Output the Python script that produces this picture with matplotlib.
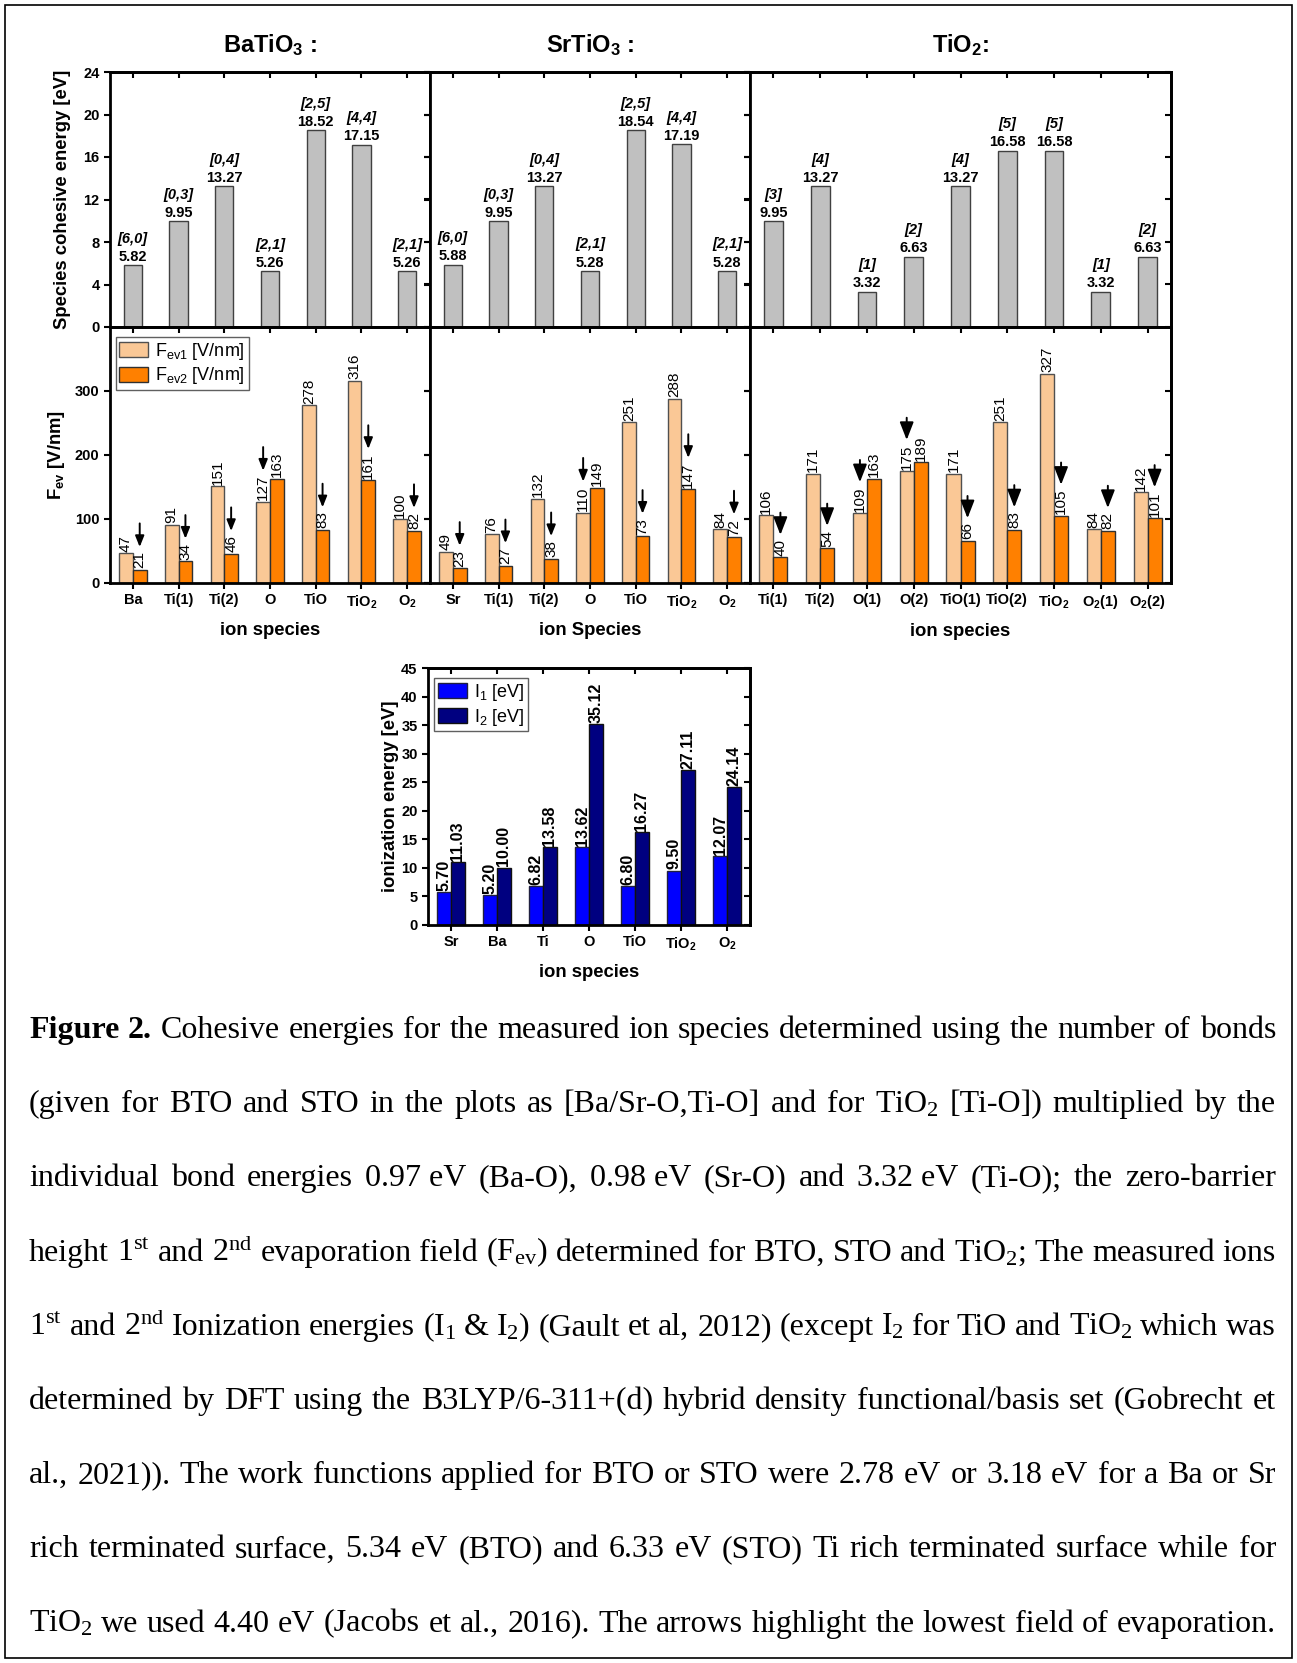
import matplotlib
matplotlib.use("Agg")
import matplotlib.pyplot as plt
from matplotlib.transforms import offset_copy
from matplotlib.patches import Rectangle
import numpy as np

plt.rcParams["font.family"] = ["Liberation Sans", "DejaVu Sans"]
plt.rcParams["font.weight"] = "bold"
plt.rcParams["axes.labelweight"] = "bold"
plt.rcParams["mathtext.default"] = "regular"

# --- данные -----------------------------------------------------------------
bto_species = ["Ba", "Ti(1)", "Ti(2)", "O", "TiO", "TiO$_2$", "O$_2$"]
bto_cohesive = [5.82, 9.95, 13.27, 5.26, 18.52, 17.15, 5.26]
bto_bonds = ["[6,0]", "[0,3]", "[0,4]", "[2,1]", "[2,5]", "[4,4]", "[2,1]"]
bto_fev1 = [47, 91, 151, 127, 278, 316, 100]
bto_fev2 = [21, 34, 46, 163, 83, 161, 82]
bto_lowest = [2, 2, 2, 1, 2, 2, 2]

sto_species = ["Sr", "Ti(1)", "Ti(2)", "O", "TiO", "TiO$_2$", "O$_2$"]
sto_cohesive = [5.88, 9.95, 13.27, 5.28, 18.54, 17.19, 5.28]
sto_bonds = ["[6,0]", "[0,3]", "[0,4]", "[2,1]", "[2,5]", "[4,4]", "[2,1]"]
sto_fev1 = [49, 76, 132, 110, 251, 288, 84]
sto_fev2 = [23, 27, 38, 149, 73, 147, 72]
sto_lowest = [2, 2, 2, 1, 2, 2, 2]

tio2_species = ["Ti(1)", "Ti(2)", "O(1)", "O(2)", "TiO(1)", "TiO(2)", "TiO$_2$", "O$_2$(1)", "O$_2$(2)"]
tio2_cohesive = [9.95, 13.27, 3.32, 6.63, 13.27, 16.58, 16.58, 3.32, 6.63]
tio2_bonds = ["[3]", "[4]", "[1]", "[2]", "[4]", "[5]", "[5]", "[1]", "[2]"]
tio2_fev1 = [106, 171, 109, 175, 171, 251, 327, 84, 142]
tio2_fev2 = [40, 54, 163, 189, 66, 83, 105, 82, 101]
tio2_lowest = [2, 2, 1, 1, 2, 2, 2, 2, 2]

ion_species = ["Sr", "Ba", "Ti", "O", "TiO", "TiO$_2$", "O$_2$"]
ion_i1 = [5.70, 5.20, 6.82, 13.62, 6.80, 9.50, 12.07]
ion_i2 = [11.03, 10.00, 13.58, 35.12, 16.27, 27.11, 24.14]

panel_titles = ["BaTiO$_3$ :", "SrTiO$_3$ :", "TiO$_2$:"]
xlabels = ["ion species", "ion Species", "ion species"]

caption_lines = [
    "Figure 2. Cohesive energies for the measured ion species determined using the number of bonds",
    "(given for BTO and STO in the plots as [Ba/Sr-O,Ti-O] and for TiO$_2$ [Ti-O]) multiplied by the",
    "individual bond energies 0.97~eV (Ba-O), 0.98~eV (Sr-O) and 3.32~eV (Ti-O); the zero-barrier",
    "height 1$^{st}$ and 2$^{nd}$ evaporation field (F$_{ev}$) determined for BTO, STO and TiO$_2$; The measured ions",
    "1$^{st}$ and 2$^{nd}$ Ionization energies (I$_1$ & I$_2$) (Gault et al, 2012) (except I$_2$ for TiO and TiO$_2$ which was",
    "determined by DFT using the B3LYP/6-311+(d) hybrid density functional/basis set (Gobrecht et",
    "al., 2021)). The work functions applied for BTO or STO were 2.78 eV or 3.18 eV for a Ba or Sr",
    "rich terminated surface, 5.34 eV (BTO) and 6.33 eV (STO) Ti rich terminated surface while for",
    "TiO$_2$ we used 4.40 eV (Jacobs et al., 2016). The arrows highlight the lowest field of evaporation.",
]

W, H = 1297, 1663
GRAY = "#c0c0c0"
LIGHT = "#fac896"
ORANGE = "#ff8000"
BLUE = "#0000ff"
NAVY = "#000080"

fig = plt.figure(figsize=(W / 100, H / 100), dpi=100)


def pos(x0, y0, x1, y1):
    # пиксели -> доли фигуры
    return [x0 / W, 1 - y1 / H, (x1 - x0) / W, (y1 - y0) / H]


def style_axes(ax, xt, yt):
    for s in ax.spines.values():
        s.set_linewidth(2)
    ax.tick_params(direction="out", length=4, width=1.5, labelsize=10.5)
    top = ax.secondary_xaxis("top")
    top.set_xticks(xt)
    top.tick_params(direction="in", length=4, width=1.5, labeltop=False)
    right = ax.secondary_yaxis("right")
    right.set_yticks(yt)
    right.tick_params(direction="in", length=4, width=1.5, labelright=False)
    for s in list(top.spines.values()) + list(right.spines.values()):
        s.set_linewidth(2)


def draw_arrow(ax, x, v, big):
    # стрелка над подписью бара с наименьшим полем
    ndig = len(str(v))
    tip = offset_copy(ax.transData, fig=fig, x=0, y=0.556 * 11 * ndig + 4, units="points")
    if big:
        st = "-|>,head_length=0.9,head_width=0.35"
        length = 16
    else:
        st = "-|>,head_length=0.55,head_width=0.22"
        length = 17
    ax.annotate("", xy=(x, v), xycoords=tip, xytext=(0, length), textcoords="offset points",
                arrowprops=dict(arrowstyle=st, color="k", lw=1.4, shrinkA=0, shrinkB=0,
                                mutation_scale=12))


legend_kw = dict(prop={"weight": "normal", "size": 13}, fancybox=False, edgecolor="#606060",
                 framealpha=1, handlelength=1.6, handleheight=0.9, borderpad=0.2,
                 labelspacing=0.2, handletextpad=0.4, borderaxespad=0)

columns = [
    (bto_species, bto_cohesive, bto_bonds, bto_fev1, bto_fev2, bto_lowest, 110, 430),
    (sto_species, sto_cohesive, sto_bonds, sto_fev1, sto_fev2, sto_lowest, 430, 750),
    (tio2_species, tio2_cohesive, tio2_bonds, tio2_fev1, tio2_fev2, tio2_lowest, 750, 1171),
]

w = 0.3
for k, (species, coh, bonds, f1, f2, lowest, x0, x1) in enumerate(columns):
    x = np.arange(len(species))

    # верхний ряд: энергия когезии
    ax = fig.add_axes(pos(x0, 72, x1, 327))
    ax.bar(x, coh, width=0.4, color=GRAY, edgecolor="#404040", linewidth=1)
    for i, v in enumerate(coh):
        ax.annotate(f"{v:.2f}", (i, v), xytext=(0, 1), textcoords="offset points",
                    ha="center", va="bottom", fontsize=10.5)
        ax.annotate(bonds[i], (i, v), xytext=(0, 14), textcoords="offset points",
                    ha="center", va="bottom", fontsize=10.5, fontstyle="italic")
    ax.set_xlim(-0.5, len(species) - 0.5)
    ax.set_ylim(0, 24)
    ax.set_xticks(x)
    ax.set_xticklabels([])
    ax.set_yticks(np.arange(0, 25, 4))
    if k == 0:
        ax.set_ylabel("Species cohesive energy [eV]", fontsize=13.3)
        ax.yaxis.set_label_coords(-0.122, 0.5)
    else:
        ax.set_yticklabels([])
    style_axes(ax, x, np.arange(0, 25, 4))
    fig.text((x0 + x1) / 2 / W, 1 - 45 / H, panel_titles[k], ha="center", va="center", fontsize=17)

    # средний ряд: поля испарения
    ax = fig.add_axes(pos(x0, 327, x1, 583))
    ax.bar(x - w / 2, f1, width=w, color=LIGHT, edgecolor="#505050", linewidth=1,
           label="F$_{ev1}$ [V/nm]")
    ax.bar(x + w / 2, f2, width=w, color=ORANGE, edgecolor="#303030", linewidth=1,
           label="F$_{ev2}$ [V/nm]")
    for i in range(len(species)):
        for xx, v in ((i - w / 2, f1[i]), (i + w / 2, f2[i])):
            ax.annotate(str(v), (xx, v), xytext=(0, 1), textcoords="offset points", rotation=90,
                        ha="center", va="bottom", fontsize=11, fontweight="normal")
        if lowest[i] == 1:
            draw_arrow(ax, i - w / 2, f1[i], k == 2)
        else:
            draw_arrow(ax, i + w / 2, f2[i], k == 2)
    ax.set_xlim(-0.5, len(species) - 0.5)
    ax.set_ylim(0, 400)
    ax.set_xticks(x, species)
    ax.set_yticks([0, 100, 200, 300])
    ax.set_xlabel(xlabels[k], fontsize=13.3, labelpad=8)
    if k == 0:
        ax.set_ylabel("F$_{ev}$ [V/nm]", fontsize=13.3)
        ax.yaxis.set_label_coords(-0.134, 0.5)
        ax.legend(loc="upper left", bbox_to_anchor=(0.018, 0.96), **legend_kw)
    else:
        ax.set_yticklabels([])
    style_axes(ax, x, [0, 100, 200, 300])

# нижний график: энергии ионизации
x = np.arange(len(ion_species))
ax = fig.add_axes(pos(428, 668, 750, 925))
ax.bar(x - w / 2, ion_i1, width=w, color=BLUE, edgecolor="#202040", linewidth=1, label="I$_1$ [eV]")
ax.bar(x + w / 2, ion_i2, width=w, color=NAVY, edgecolor="#101010", linewidth=1, label="I$_2$ [eV]")
for i in range(len(ion_species)):
    for xx, v in ((i - w / 2, ion_i1[i]), (i + w / 2, ion_i2[i])):
        ax.annotate(f"{v:.2f}", (xx, v), xytext=(0, 1), textcoords="offset points", rotation=90,
                    ha="center", va="bottom", fontsize=11.5)
ax.set_xlim(-0.5, len(ion_species) - 0.5)
ax.set_ylim(0, 45)
ax.set_xticks(x, ion_species)
ax.set_yticks(np.arange(0, 46, 5))
ax.set_xlabel("ion species", fontsize=13.3, labelpad=8)
ax.set_ylabel("ionization energy [eV]", fontsize=13.3)
ax.yaxis.set_label_coords(-0.09, 0.5)
ax.legend(loc="upper left", bbox_to_anchor=(0.02, 0.96), **legend_kw)
style_axes(ax, x, np.arange(0, 46, 5))

# подпись, выровненная по ширине
renderer = fig.canvas.get_renderer()
left, right = 29, 1276
for n, line in enumerate(caption_lines):
    words = line.split(" ")
    texts = []
    for j, word in enumerate(words):
        weight = "bold" if (n == 0 and j < 2) else "normal"
        t = fig.text(0, 0, word.replace("~", " "), fontsize=23, fontweight=weight,
                     family=["Liberation Serif", "DejaVu Serif"], ha="left", va="baseline")
        texts.append(t)
    widths = [t.get_window_extent(renderer).width for t in texts]
    gap = (right - left - sum(widths)) / (len(texts) - 1)
    xpos = left
    ybase = 1038 + 74.2 * n
    for t, wd in zip(texts, widths):
        t.set_position((xpos / W, 1 - ybase / H))
        xpos += wd + gap

fig.add_artist(Rectangle((5 / W, 5 / H), 1287 / W, 1653 / H, transform=fig.transFigure,
                         fill=False, edgecolor="k", linewidth=1.2))

plt.savefig("out.png", dpi=100)
